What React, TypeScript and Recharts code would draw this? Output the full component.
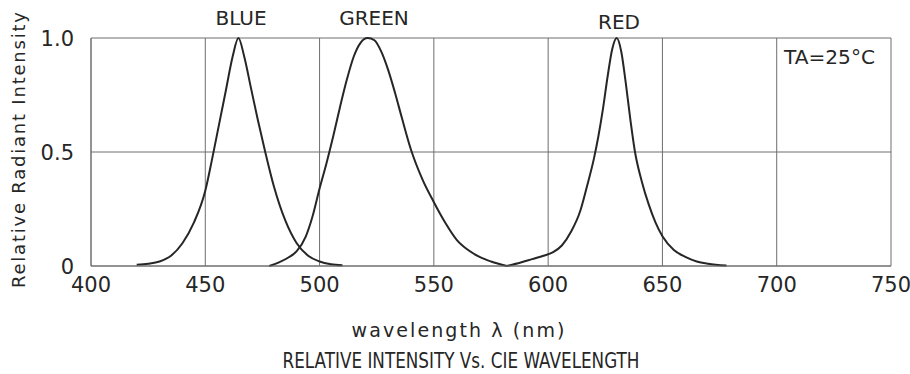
import { CartesianGrid, Line, LineChart, XAxis, YAxis } from "recharts";

// wavelength (nm) / relative intensity
const blueNm = [420, 425, 430, 435, 440, 445, 450, 453, 456, 459, 462, 464.5, 467, 470, 473, 476, 480, 485, 490, 495, 500, 505, 510];
const blueVal = [0.005, 0.01, 0.02, 0.045, 0.1, 0.19, 0.33, 0.47, 0.62, 0.77, 0.92, 1.0, 0.92, 0.78, 0.64, 0.51, 0.35, 0.2, 0.1, 0.045, 0.02, 0.008, 0.003];

const greenNm = [478, 482, 486, 490, 494, 497, 500, 503, 506, 509, 512, 515, 518, 521, 524, 527, 530, 533, 536, 540, 545, 550, 555, 560, 565, 570, 575, 582];
const greenVal = [0.0, 0.015, 0.035, 0.065, 0.13, 0.22, 0.34, 0.45, 0.57, 0.7, 0.82, 0.92, 0.98, 1.0, 0.99, 0.94, 0.86, 0.76, 0.65, 0.51, 0.38, 0.28, 0.19, 0.115, 0.07, 0.04, 0.02, 0.0];

const redNm = [582, 588, 593, 598, 602, 606, 610, 614, 617, 620, 622, 624, 626, 628, 630, 632, 634, 636, 638, 641, 644, 647, 650, 655, 660, 665, 670, 678];
const redVal = [0.0, 0.015, 0.03, 0.045, 0.06, 0.09, 0.15, 0.24, 0.35, 0.47, 0.57, 0.69, 0.83, 0.95, 1.0, 0.94, 0.8, 0.64, 0.5, 0.37, 0.27, 0.19, 0.13, 0.07, 0.04, 0.02, 0.01, 0.002];

const xTicks = [400, 450, 500, 550, 600, 650, 700, 750];
const yTicks = [0, 0.5, 1];
const yTickLabels: Record<number, string> = { 0: "0", 0.5: "0.5", 1: "1.0" };

const rows = (nm: number[], v: number[]) => nm.map((x, i) => ({ nm: x, v: v[i] }));

const FONT = "'DejaVu Sans', sans-serif";
const INK = "#262626";

const XTick = (p: any) => (
  <text x={p.x} y={p.y + 18} textAnchor="middle" fontFamily={FONT} fontSize={21} fill={INK}>
    {p.payload.value}
  </text>
);

const YTick = (p: any) => (
  <text x={p.x - 9} y={p.y + 8} textAnchor="end" fontFamily={FONT} fontSize={21} fill={INK}>
    {yTickLabels[p.payload.value]}
  </text>
);

export default function App() {
  const line = { type: "monotone" as const, dataKey: "v", stroke: INK, strokeWidth: 2, dot: false, isAnimationActive: false };
  return (
    <div style={{ position: "absolute", left: 0, top: 0, width: 910, height: 374, background: "#fff" }}>
      <LineChart width={910} height={374} margin={{ top: 38, right: 19, left: 0, bottom: 0 }}>
        <CartesianGrid stroke="#6e6e6e" strokeWidth={1} />
        <XAxis
          type="number"
          dataKey="nm"
          domain={[400, 750]}
          ticks={xTicks}
          allowDataOverflow
          height={108}
          axisLine={{ stroke: "#6e6e6e" }}
          tickLine={false}
          tick={<XTick />}
        />
        <YAxis
          type="number"
          domain={[0, 1]}
          ticks={yTicks}
          width={91}
          axisLine={{ stroke: "#6e6e6e" }}
          tickLine={false}
          tick={<YTick />}
        />
        <Line {...line} data={rows(blueNm, blueVal)} />
        <Line {...line} data={rows(greenNm, greenVal)} />
        <Line {...line} data={rows(redNm, redVal)} />
      </LineChart>
      <svg width={910} height={374} style={{ position: "absolute", left: 0, top: 0, pointerEvents: "none" }}>
        <g fontFamily={FONT} fill={INK}>
          <text x={241} y={25} textAnchor="middle" fontSize={20}>BLUE</text>
          <text x={374} y={25} textAnchor="middle" fontSize={20}>GREEN</text>
          <text x={619} y={29} textAnchor="middle" fontSize={20}>RED</text>
          <text x={784} y={64} fontSize={20} textLength={91} lengthAdjust="spacingAndGlyphs">TA=25°C</text>
          <text
            transform="translate(25,150) rotate(-90)"
            textAnchor="middle"
            fontSize={18}
            textLength={276}
            lengthAdjust="spacing"
          >
            Relative Radiant Intensity
          </text>
          <text x={458} y={337} textAnchor="middle" fontSize={19} textLength={213} lengthAdjust="spacing">
            wavelength λ (nm)
          </text>
          <text x={461} y={368} textAnchor="middle" fontSize={21} textLength={357} lengthAdjust="spacingAndGlyphs">
            RELATIVE INTENSITY Vs. CIE WAVELENGTH
          </text>
        </g>
      </svg>
    </div>
  );
}
